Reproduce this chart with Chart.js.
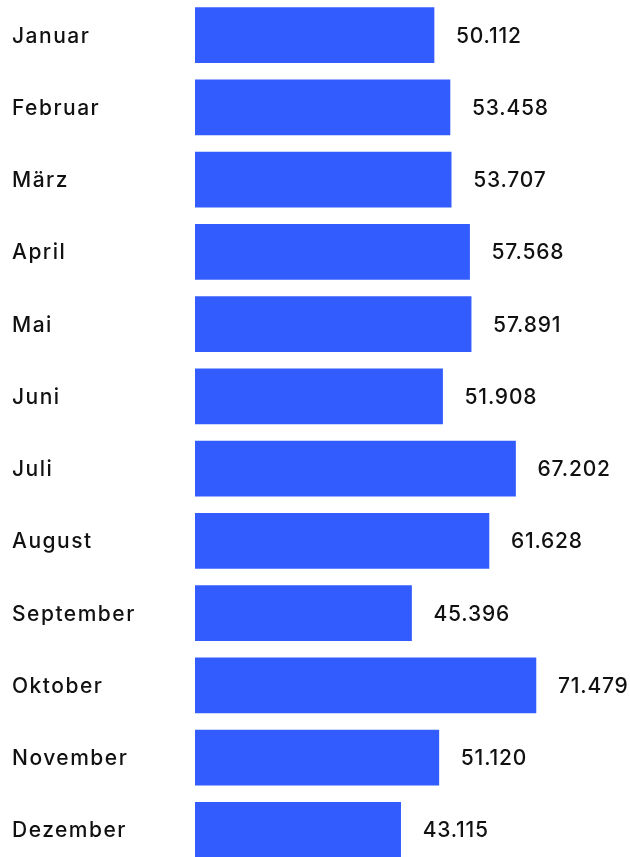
<!DOCTYPE html>
<html>
<head>
<meta charset="utf-8">
<script src="https://cdn.jsdelivr.net/npm/chart.js@4/dist/chart.umd.min.js"></script>
<style>
  html, body { margin: 0; padding: 0; background: #fff; overflow: hidden; width: 630px; height: 857px; }
  #wrap { position: absolute; left: 0; top: -1px; width: 630px; height: 867px; }
</style>
</head>
<body>
<div id="wrap"><canvas id="c" width="630" height="867"></canvas></div>
<script>
const months = ["Januar","Februar","März","April","Mai","Juni","Juli","August","September","Oktober","November","Dezember"];
const values = [50112, 53458, 53707, 57568, 57891, 51908, 67202, 61628, 45396, 71479, 51120, 43115];

const fmt = new Intl.NumberFormat('de-DE');
const FONT = "Inter, 'Noto Sans', sans-serif";

const textLabels = {
  id: 'textLabels',
  afterDatasetsDraw(chart) {
    const ctx = chart.ctx;
    const meta = chart.getDatasetMeta(0);
    const yScale = chart.scales.y;
    ctx.save();
    ctx.fillStyle = '#111111';
    ctx.textAlign = 'left';
    ctx.textBaseline = 'alphabetic';
    // category labels
    ctx.font = "500 21px " + FONT;
    ctx.letterSpacing = '1.5px';
    chart.data.labels.forEach((lab, i) => {
      const y = yScale.getPixelForTick(i);
      ctx.fillText(lab, 12, y + 7.5);
    });
    // value labels
    ctx.letterSpacing = '0.8px';
    meta.data.forEach((bar, i) => {
      ctx.fillText(fmt.format(values[i]), bar.x + 22, bar.y + 7.5);
    });
    ctx.restore();
  }
};

new Chart(document.getElementById('c'), {
  type: 'bar',
  data: {
    labels: months,
    datasets: [{
      data: values,
      backgroundColor: '#335CFF',
      borderWidth: 0,
      barThickness: 55
    }]
  },
  options: {
    indexAxis: 'y',
    responsive: false,
    animation: false,
    devicePixelRatio: 1,
    layout: { padding: { left: 12, right: 0, top: 0, bottom: 0 } },
    plugins: { legend: { display: false }, tooltip: { enabled: false } },
    scales: {
      x: { display: false, min: 0, max: 91200 },
      y: {
        grid: { display: false },
        border: { display: false },
        ticks: { display: false },
        afterFit(scale) {
          scale.width = 183;
          scale.paddingTop = 0;
          scale.paddingBottom = 0;
        }
      }
    }
  },
  plugins: [textLabels]
});
</script>
</body>
</html>
